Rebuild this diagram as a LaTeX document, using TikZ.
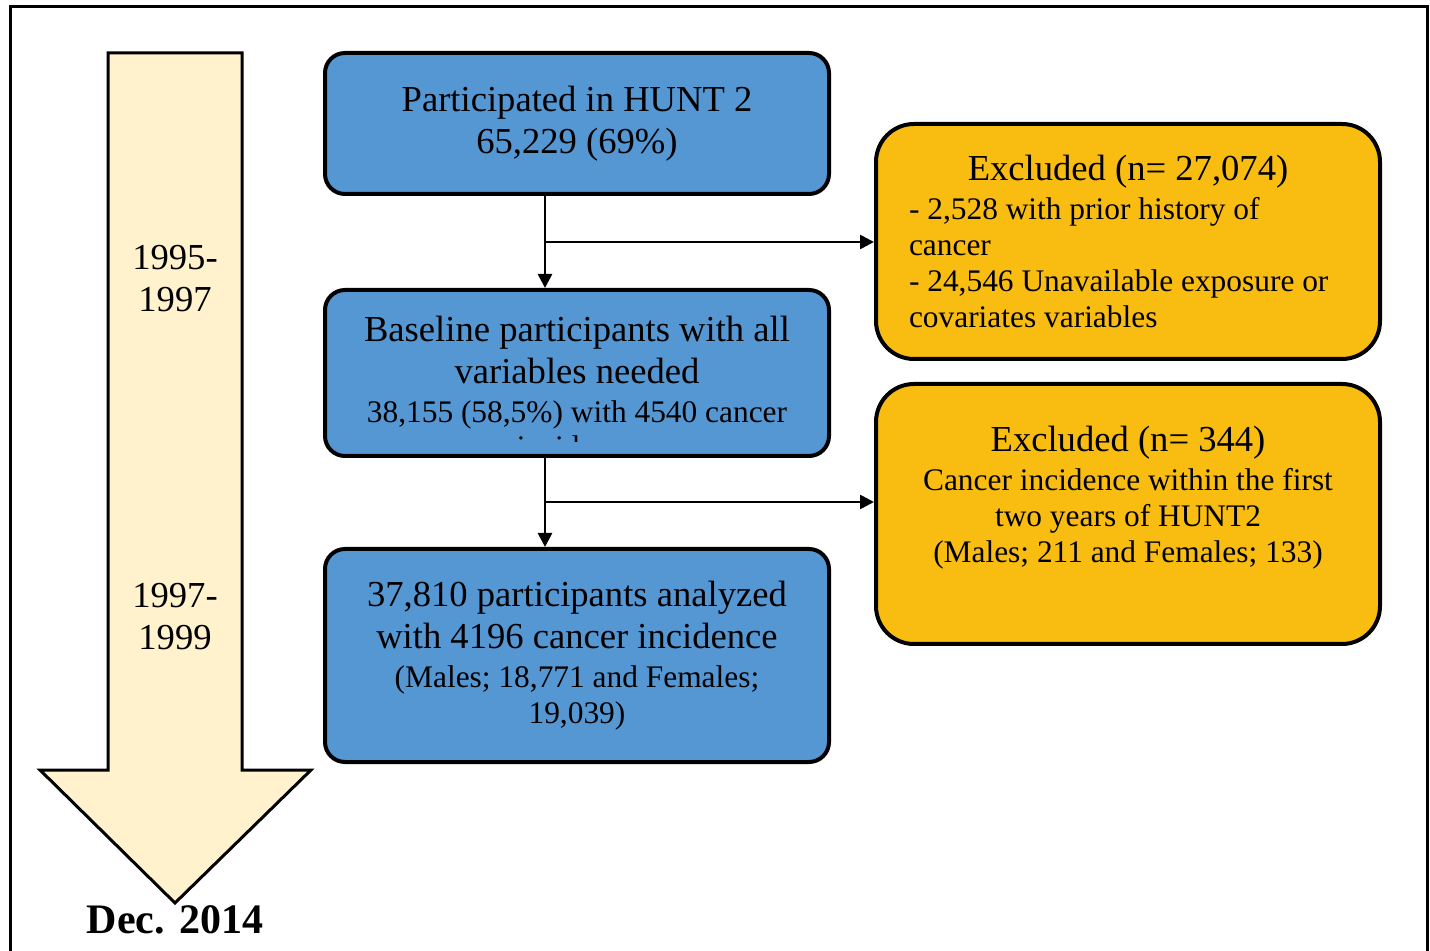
\documentclass[tikz,border=0pt]{standalone}
\usepackage{fontspec}
\setmainfont{Liberation Serif}
\usetikzlibrary{arrows.meta,calc,positioning}
\definecolor{boxblue}{HTML}{5597D3}
\definecolor{boxgold}{HTML}{F9BD12}
\definecolor{cream}{HTML}{FFF2CC}
\newcommand{\bigtxt}{\fontsize{18.3}{21}\selectfont}
\newcommand{\smalltxt}{\fontsize{15.7}{18.3}\selectfont}
\tikzset{
  bluebox/.style={draw, line width=2pt, fill=boxblue, rounded corners=10pt,
    minimum width=252pt, inner sep=0pt, align=center, font=\bigtxt},
  goldbox/.style={draw, line width=2pt, fill=boxgold, rounded corners=19pt,
    minimum width=252pt, inner sep=0pt, font=\bigtxt},
  flow/.style={line width=1.3pt, -{Triangle[length=7pt,width=7pt]}},
  year/.style={align=center, font=\bigtxt}
}

\begin{document}
\begin{tikzpicture}[x=0.5pt, y=-0.5pt]
    \useasboundingbox (0,0) rectangle (1430,951);
    \draw[line width=1.5pt] (10,7) rectangle (1427,990);

    % time arrow
    \draw[line width=1.5pt, fill=cream, line join=miter]
      (108,53) -- (242,53) -- (242,770) -- (311,770) -- (175,903)
      -- (40,770) -- (108,770) -- cycle;
    \node[year] (y1) at (175,279) {1995-\\1997};
    \node[year] (y2) at (175,617) {1997-\\1999};
    \node[font=\fontsize{21}{24}\selectfont\bfseries] (dec) at (175,920) {Dec. 2014};

    % flow boxes
    \node[bluebox, minimum height=70.5pt] (hunt) at (577,123.5)
      {Participated in HUNT 2\\65,229 (69\%)};
    \node[bluebox, minimum height=83pt] (base) at (577,373)
      {Baseline participants with all\\variables needed\\[-1.5pt]
       {\smalltxt 38,155 (58,5\%) with 4540 cancer}};
    \begin{scope}
      \clip (325,290) rectangle (829,442);
      \node[font=\smalltxt] (basecut) at (577,447) {incidence};
    \end{scope}
    \node[bluebox, minimum height=106.5pt] (final) at (577,655.5)
      {37,810 participants analyzed\\with 4196 cancer incidence\\[-1.5pt]
       {\smalltxt (Males; 18,771 and Females;}\\[-3pt]
       {\smalltxt 19,039)}};

    \node[goldbox, minimum height=117.5pt, text width=219pt, align=flush left] (ex1) at (1128,241.5)
      {\makebox[\linewidth][c]{Excluded (n= 27,074)}\\[-1.5pt]
       {\smalltxt - 2,528 with prior history of}\\[-3pt]
       {\smalltxt cancer}\\[-3pt]
       {\smalltxt - 24,546 Unavailable exposure or}\\[-3pt]
       {\smalltxt covariates variables}};
    \node[goldbox, minimum height=130pt] (ex2) at (1128,514) {};
    \node[align=center, font=\bigtxt] (ex2txt) at (1128,498)
      {Excluded (n= 344)\\[-1.5pt]
       {\smalltxt Cancer incidence within the first}\\[-3pt]
       {\smalltxt two years of HUNT2}\\[-3pt]
       {\smalltxt (Males; 211 and Females; 133)}};

    % connectors
    \coordinate (j1) at (545,242);
    \coordinate (j2) at (545,502);
    \draw[flow] (hunt.south -| j1) -- (base.north -| j1);
    \draw[flow] (j1) -- (j1 -| ex1.west);
    \draw[flow] (base.south -| j2) -- (final.north -| j2);
    \draw[flow] (j2) -- (j2 -| ex2.west);
\end{tikzpicture}
\end{document}
